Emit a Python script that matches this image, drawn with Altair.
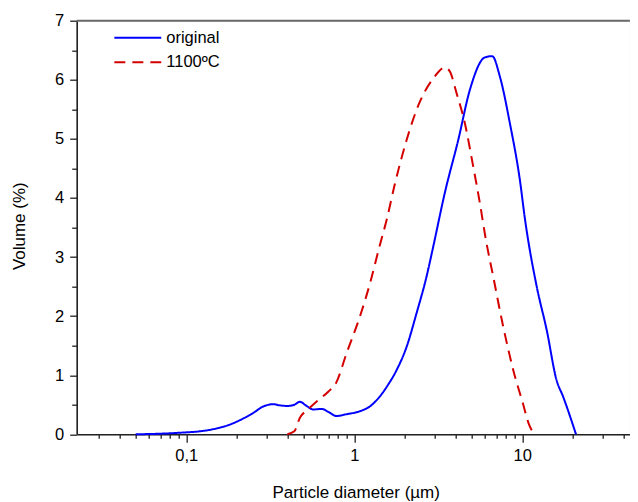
import altair as alt
import pandas as pd

# --- data ---
orig_d = [0.05, 0.07, 0.096, 0.12, 0.152, 0.18, 0.209, 0.25, 0.287, 0.33, 0.36, 0.40, 0.44,
          0.475, 0.52, 0.57, 0.64, 0.70, 0.785, 0.9, 1.08, 1.25, 1.42, 1.6, 1.79, 2.05, 2.35,
          2.70, 2.95, 3.47, 4.16, 4.88, 6.0, 6.63, 7.37, 8.45, 9.69, 10.4, 12.2, 14.0, 16.0,
          17.5, 20.9]
orig_v = [0.0, 0.01, 0.03, 0.05, 0.10, 0.16, 0.24, 0.36, 0.47, 0.51, 0.49, 0.48, 0.50,
          0.55, 0.48, 0.42, 0.43, 0.38, 0.31, 0.34, 0.39, 0.48, 0.64, 0.85, 1.09, 1.48, 2.05,
          2.68, 3.17, 4.10, 4.98, 5.83, 6.38, 6.40, 6.05, 5.26, 4.30, 3.63, 2.50, 1.76, 0.92,
          0.64, 0.0]

heat_d = [0.40, 0.44, 0.475, 0.53, 0.60, 0.70, 0.78, 0.90, 1.08, 1.24, 1.42, 1.56, 1.75,
          2.05, 2.46, 2.95, 3.47, 3.71, 4.07, 4.56, 5.11, 5.60, 6.08, 6.72, 7.71, 8.84, 10.1,
          10.9, 11.8]
heat_v = [0.0, 0.05, 0.28, 0.42, 0.56, 0.72, 0.87, 1.37, 1.99, 2.55, 3.20, 3.63, 4.25,
          4.98, 5.63, 6.02, 6.21, 6.14, 5.77, 5.26, 4.53, 3.91, 3.29, 2.67, 1.82, 1.09, 0.52,
          0.19, 0.0]

series_names = ["original", "1100ºC"]
series_colors = ["#0000FF", "#D40000"]

x_ticks = [0.03, 0.04, 0.05, 0.06, 0.07, 0.08, 0.09, 0.1,
           0.2, 0.3, 0.4, 0.5, 0.6, 0.7, 0.8, 0.9, 1,
           2, 3, 4, 5, 6, 7, 8, 9, 10, 20, 30, 40]
y_ticks = [0, 0.5, 1, 1.5, 2, 2.5, 3, 3.5, 4, 4.5, 5, 5.5, 6, 6.5, 7]

df = pd.concat([
    pd.DataFrame({"d": orig_d, "v": orig_v, "s": series_names[0]}),
    pd.DataFrame({"d": heat_d, "v": heat_v, "s": series_names[1]}),
])

W = 553.2
H = 413.6
FONT = "Liberation Sans"
AX = "#222222"

major_x = "datum.value == 0.1 || datum.value == 1 || datum.value == 10"

legend_kw = dict(title=None, orient="none", legendX=36.6, legendY=6,
                 symbolType="stroke", symbolSize=2200,
                 symbolStrokeWidth=2, clipHeight=22, rowPadding=2.5,
                 labelFontSize=16.5, labelFont=FONT, labelColor="#000000",
                 labelOffset=4, padding=0)

lines = alt.Chart(df).mark_line(strokeWidth=2, interpolate="monotone").encode(
    x=alt.X("d:Q",
            scale=alt.Scale(type="log", domain=[0.02228, 43.75], nice=False),
            axis=alt.Axis(values=x_ticks,
                          labelExpr="datum.value == 0.1 ? '0,1' : (datum.value == 1 ? '1' : (datum.value == 10 ? '10' : ''))",
                          tickSize={"condition": {"test": major_x, "value": 8}, "value": 4},
                          labelPadding=5, labelFontSize=16.5, labelFont=FONT,
                          labelColor="#000000", labelFlush=False,
                          title="Particle diameter (µm)", titleFontSize=17, titleFont=FONT,
                          titleFontWeight="normal", titleColor="#000000",
                          titleX=279, titleY=58, titleBaseline="middle",
                          domainColor=AX, domainWidth=1.6, tickColor=AX, tickWidth=1.3,
                          grid=False)),
    y=alt.Y("v:Q",
            scale=alt.Scale(domain=[0, 7], nice=False),
            axis=alt.Axis(values=y_ticks,
                          labelExpr="datum.value % 1 == 0 ? datum.value : ''",
                          tickSize={"condition": {"test": "datum.value % 1 == 0", "value": 7}, "value": 5},
                          labelPadding=6, labelFontSize=16.5, labelFont=FONT,
                          labelColor="#000000",
                          title="Volume (%)", titleFontSize=17, titleFont=FONT,
                          titleFontWeight="normal", titleColor="#000000",
                          titleX=-57, titleY=205, titleBaseline="middle", titleAngle=-90,
                          domainColor=AX, domainWidth=1.6, tickColor=AX, tickWidth=1.3,
                          grid=False)),
    color=alt.Color("s:N", scale=alt.Scale(domain=series_names, range=series_colors),
                    legend=alt.Legend(**legend_kw)),
    strokeDash=alt.StrokeDash("s:N", scale=alt.Scale(domain=series_names, range=[[1, 0], [11, 7]]),
                              legend=alt.Legend(**legend_kw)),
)

top_line = alt.Chart(pd.DataFrame({"a": [0]})).mark_rule(color="#6a6a6a", strokeWidth=2).encode(
    x=alt.value(0), x2=alt.value(W), y=alt.value(0)
)

chart = alt.layer(lines, top_line).properties(
    width=W, height=H,
    autosize=alt.AutoSizeParams(type="none"),
    padding={"left": 68.7, "top": 12.7, "right": 0, "bottom": 74},
).configure_view(stroke=None).configure(background="white")

chart.save("out.html", embed_options={"renderer": "svg", "actions": False})
